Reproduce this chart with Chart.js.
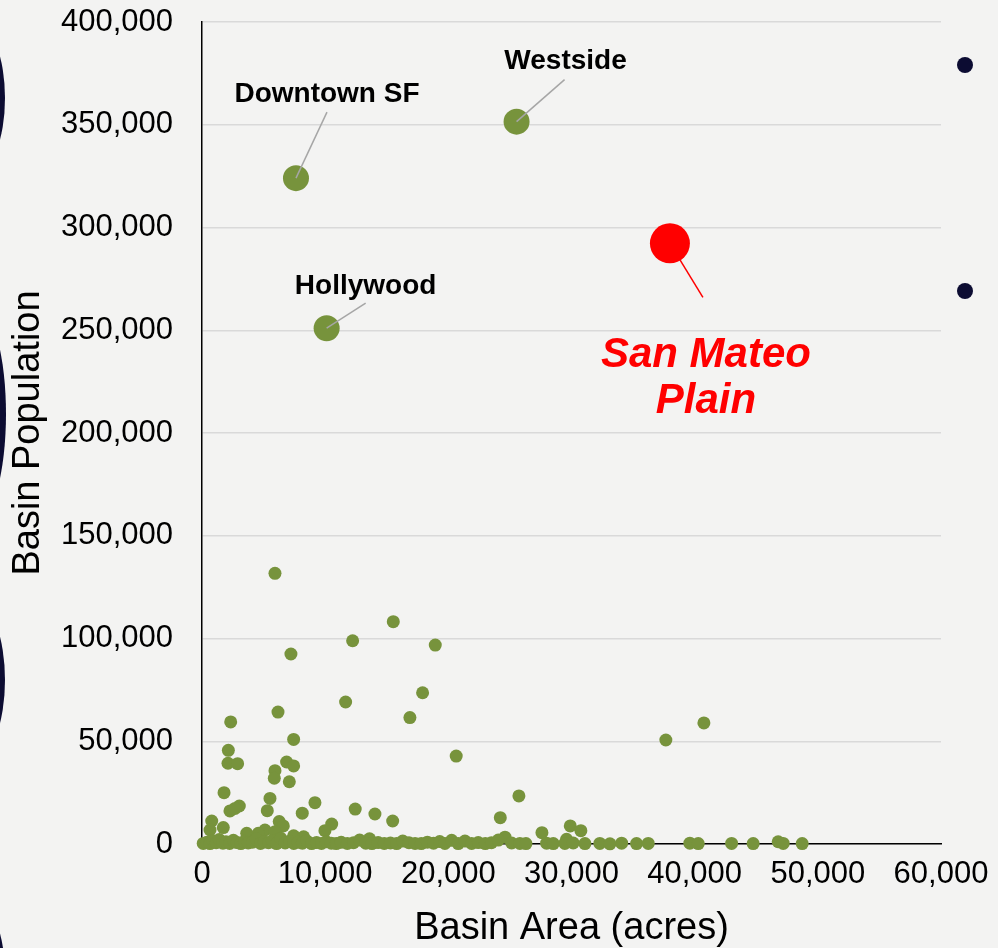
<!DOCTYPE html>
<html>
<head>
<meta charset="utf-8">
<script src="https://cdn.jsdelivr.net/npm/chart.js@4.4.1/dist/chart.umd.min.js"></script>
<style>
  html, body { margin: 0; padding: 0; background: #f3f3f2; }
  #wrap { width: 998px; height: 948px; position: relative; overflow: hidden; }
  canvas { display: block; }
</style>
</head>
<body>
<div id="wrap"><canvas id="chart" width="998" height="948"></canvas></div>
<script>
// Basin area (acres) vs. population for groundwater basins
const basinArea = [
  5925, 15530, 12230, 18940, 7220, 17910, 11660, 16880, 6170, 2330,
  7440, 2140, 2110, 2890, 5925, 5870, 6870, 7440, 20640, 7090,
  1790, 5520, 9170, 3030, 2270, 2680, 5300, 8140, 12440, 14040,
  15480, 790, 1730, 6270, 6600, 5110, 10530, 9980, 650, 3630,
  4570, 5925, 7440, 8250, 25730, 24220, 27600, 29900, 30760, 29600,
  24600, 37660, 40750, 13600,
  100, 400, 650, 900, 1150, 1400, 1700, 1950, 2250, 2550,
  2850, 3150, 3450, 3750, 4100, 4400, 4750, 5050, 5400, 5700,
  6050, 6400, 6750, 7100, 7450, 7800, 8150, 8500, 8900, 9300,
  9700, 10100, 10500, 10900, 11300, 11800, 12300, 12800, 13300, 13800,
  14300, 14800, 15300, 15800, 16300, 16800, 17300, 17800, 18300, 18800,
  19300, 19720, 20270, 20800, 21350, 21890, 22430, 23000, 23500, 24060,
  25140, 25810, 26300,
  27980, 28520, 29460, 30140, 31090, 32300, 33120, 34070, 35280, 36230,
  39610, 40290, 43000, 44750, 46780, 47190, 48730
];
const basinPopulation = [
  131700, 108200, 98900, 96800, 92450, 73600, 69100, 61500, 64200, 59400,
  50900, 45600, 39300, 39100, 35700, 32000, 39900, 38000, 42800, 30300,
  25000, 22200, 20100, 18500, 16100, 17300, 16200, 15000, 17000, 14600,
  11200, 11200, 8000, 10900, 8800, 6800, 9700, 6500, 6800, 5200,
  5200, 6000, 4000, 3500, 23400, 12800, 5500, 8800, 6500, 2300,
  3300, 50600, 58900, 2500,
  300, 900, 200, 1500, 600, 2200, 400, 1100, 300, 1800,
  700, 200, 1300, 500, 900, 2400, 300, 1000, 600, 1700,
  200, 2800, 500, 1200, 300, 900, 400, 1500, 200, 700,
  300, 1100, 400, 200, 800, 300, 600, 1900, 400, 200,
  700, 300, 500, 200, 1400, 600, 300, 200, 900, 400,
  1200, 300, 1800, 200, 1400, 300, 700, 200, 600, 1900,
  500, 300, 200,
  400, 200, 300, 500, 200, 300, 100, 400, 200, 300,
  400, 200, 300, 200, 1100, 300, 200
];

// Large urban basins called out by name
const namedBasins = ['Downtown SF', 'Westside', 'Hollywood'];
const namedArea = [7630, 25540, 10120];
const namedPopulation = [324000, 351500, 251000];

// Highlighted basin
const highlightLines = ['San Mateo', 'Plain'];
const highlightArea = [37990];
const highlightPopulation = [292300];

// Axis ticks
const xTicks = [0, 10000, 20000, 30000, 40000, 50000, 60000];
const yTicks = [0, 50000, 100000, 150000, 200000, 250000, 300000, 350000, 400000];

const FONT = '"Liberation Sans", Arial, Helvetica, sans-serif';
const GREEN = '#77933c';
const RED = '#ff0000';
const NAVY = '#0c0c32';
const CLEAR = 'rgba(0,0,0,0)';

const fmt = v => Number(v).toLocaleString('en-US');
const toPoints = (xs, ys) => xs.map((x, i) => ({ x: x, y: ys[i] }));

// Callout geometry in pixels relative to each marker centre
const namedCallouts = [
  { line: [31, -66], text: [31, -76] },
  { line: [48, -42], text: [49, -53] },
  { line: [39, -25], text: [39, -34] }
];
const highlightCallout = { line: [33, 54], text: [36, 124], lineGap: 46 };

// Slide decorations: dark shapes on the left edge and bullets on the right
const slideDecor = {
  id: 'slideDecor',
  beforeDraw(chart) {
    const ctx = chart.ctx;
    ctx.save();
    ctx.fillStyle = '#f3f3f2';
    ctx.fillRect(0, 0, chart.width, chart.height);
    ctx.fillStyle = NAVY;
    const shapes = [
      { cx: -25, cy: 98, rx: 30, ry: 75 },
      { cx: -24, cy: 414, rx: 30, ry: 107 },
      { cx: -25, cy: 680, rx: 30, ry: 78 },
      { cx: -25, cy: 975, rx: 30, ry: 75 }
    ];
    shapes.forEach(s => {
      ctx.beginPath();
      ctx.ellipse(s.cx, s.cy, s.rx, s.ry, 0, 0, Math.PI * 2);
      ctx.fill();
    });
    [[965, 65], [965, 291]].forEach(p => {
      ctx.beginPath();
      ctx.arc(p[0], p[1], 8, 0, Math.PI * 2);
      ctx.fill();
    });
    ctx.restore();
  }
};

// Leader lines and captions for the named and highlighted basins
const callouts = {
  id: 'callouts',
  afterDatasetsDraw(chart) {
    const ctx = chart.ctx;
    const xs = chart.scales.x, ys = chart.scales.y;
    ctx.save();
    namedBasins.forEach((name, i) => {
      const px = xs.getPixelForValue(namedArea[i]);
      const py = ys.getPixelForValue(namedPopulation[i]);
      const c = namedCallouts[i];
      ctx.strokeStyle = '#a6a6a6';
      ctx.lineWidth = 1.5;
      ctx.beginPath();
      ctx.moveTo(px, py);
      ctx.lineTo(px + c.line[0], py + c.line[1]);
      ctx.stroke();
      ctx.fillStyle = '#000';
      ctx.font = 'bold 28px ' + FONT;
      ctx.textAlign = 'center';
      ctx.textBaseline = 'alphabetic';
      ctx.fillText(name, px + c.text[0], py + c.text[1]);
    });
    const hx = xs.getPixelForValue(highlightArea[0]);
    const hy = ys.getPixelForValue(highlightPopulation[0]);
    const h = highlightCallout;
    ctx.strokeStyle = RED;
    ctx.lineWidth = 1.5;
    ctx.beginPath();
    ctx.moveTo(hx, hy);
    ctx.lineTo(hx + h.line[0], hy + h.line[1]);
    ctx.stroke();
    ctx.fillStyle = RED;
    ctx.font = 'italic bold 42px ' + FONT;
    ctx.textAlign = 'center';
    ctx.textBaseline = 'alphabetic';
    highlightLines.forEach((t, i) => {
      ctx.fillText(t, hx + h.text[0], hy + h.text[1] + i * h.lineGap);
    });
    ctx.restore();
  }
};

new Chart(document.getElementById('chart'), {
  type: 'scatter',
  data: {
    datasets: [
      {
        label: 'San Mateo Plain',
        data: toPoints(highlightArea, highlightPopulation),
        backgroundColor: RED,
        borderWidth: 0,
        pointRadius: 20,
        pointHoverRadius: 20,
        clip: false,
        order: 1
      },
      {
        label: 'Named basins',
        data: toPoints(namedArea, namedPopulation),
        backgroundColor: GREEN,
        borderWidth: 0,
        pointRadius: 13,
        pointHoverRadius: 13,
        clip: false,
        order: 2
      },
      {
        label: 'Basins',
        data: toPoints(basinArea, basinPopulation),
        backgroundColor: GREEN,
        borderWidth: 0,
        pointRadius: 6.5,
        pointHoverRadius: 6.5,
        clip: false,
        order: 3
      }
    ]
  },
  options: {
    responsive: false,
    animation: false,
    devicePixelRatio: 1,
    layout: { padding: { top: 22, right: 57, bottom: 0, left: 0 } },
    plugins: {
      legend: { display: false },
      tooltip: { enabled: false }
    },
    scales: {
      x: {
        type: 'linear',
        min: 0,
        max: 60000,
        afterBuildTicks: s => { s.ticks = xTicks.map(v => ({ value: v })); },
        afterFit: s => { s.height = 104; },
        grid: {
          display: true,
          drawOnChartArea: false,
          drawTicks: true,
          tickLength: 12,
          tickColor: CLEAR,
          color: CLEAR
        },
        border: { display: true, color: '#000', width: 1.5 },
        ticks: {
          padding: 0,
          color: '#000',
          maxRotation: 0,
          autoSkip: false,
          font: { family: FONT, size: 31 },
          callback: v => fmt(v)
        },
        title: {
          display: true,
          text: 'Basin Area (acres)',
          color: '#000',
          font: { family: FONT, size: 38, lineHeight: 1 },
          padding: { top: 0, bottom: 0 }
        }
      },
      y: {
        type: 'linear',
        min: 0,
        max: 400000,
        afterBuildTicks: s => { s.ticks = yTicks.map(v => ({ value: v })); },
        afterFit: s => { s.width = 202; },
        grid: {
          color: '#d9d9d9',
          lineWidth: 1.5,
          drawTicks: true,
          tickLength: 29,
          tickColor: CLEAR
        },
        border: { display: true, color: '#000', width: 1.5 },
        ticks: {
          padding: 0,
          color: '#000',
          autoSkip: false,
          font: { family: FONT, size: 31 },
          callback: v => fmt(v)
        },
        title: {
          display: true,
          text: 'Basin Population',
          color: '#000',
          font: { family: FONT, size: 38, lineHeight: 1 },
          padding: { top: 10, bottom: 0 }
        }
      }
    }
  },
  plugins: [slideDecor, callouts]
});
</script>
</body>
</html>
